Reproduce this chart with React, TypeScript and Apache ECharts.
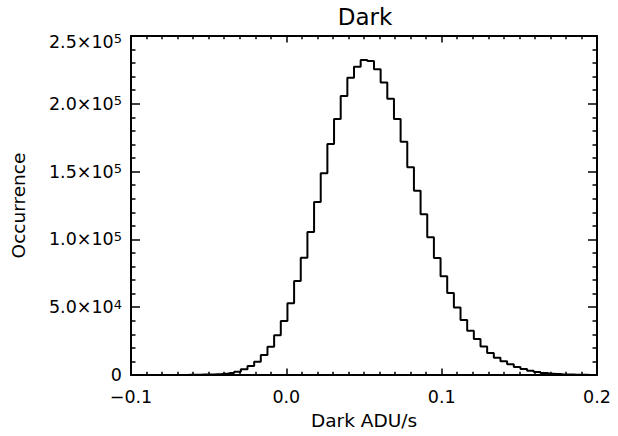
import React, { useEffect, useRef } from "react";
import * as echarts from "echarts";

// Histogram of dark current (bin centres from -0.1 to 0.2, 70 bins wide)
const binWidth = 0.3 / 70;
const firstBinCenter = -0.1;
const counts = [
  0, 0, 0, 0, 10, 20, 30, 50, 80, 120,
  180, 280, 420, 620, 1000, 1500, 2400, 4200, 6600, 9800,
  14700, 20900, 29300, 39800, 52900, 69300, 86500, 105500, 127600, 148700,
  170400, 188800, 205800, 219300, 227400, 232300, 231600, 225400, 215800, 203800,
  188800, 172100, 153200, 135900, 118500, 101500, 86300, 72800, 60500, 49700,
  40600, 32700, 26600, 21100, 16200, 12800, 10100, 7900, 5900, 4400,
  3200, 2200, 1500, 1000, 700, 450, 300, 180, 100, 60,
  30,
];

const xTickLabels = ["\u22120.1", "0.0", "0.1", "0.2"];
const yTickMantissas = ["0", "5.0\u00d710", "1.0\u00d710", "1.5\u00d710", "2.0\u00d710", "2.5\u00d710"];
const yTickExponents = ["", "4", "5", "5", "5", "5"];

const titleText = "Dark";
const xName = "Dark ADU/s";
const yName = "Occurrence";

export default function App() {
  const ref = useRef<HTMLDivElement>(null);
  useEffect(() => {
    const chart = echarts.init(ref.current!, null, { renderer: "svg" });
    const font = "DejaVu Sans";
    const fs = 17.5;
    const nameFs = 18.5;
    const data = counts.map((c, i) => [firstBinCenter + i * binWidth, c]);

    const line = { color: "#000", width: 2 };
    const tickStyle = { color: "#000", width: 1.5 };

    const xBase = (pos: "bottom" | "top", labels: boolean) => ({
      type: "value",
      position: pos,
      min: -0.1,
      max: 0.2,
      interval: 0.1,
      axisLine: { show: true, onZero: false, lineStyle: line },
      axisTick: { show: true, inside: true, length: 6.5, lineStyle: tickStyle },
      minorTick: { show: true, splitNumber: 10, length: 3.3, lineStyle: tickStyle },
      splitLine: { show: false },
      axisLabel: {
        show: labels,
        margin: 13,
        color: "#000",
        fontSize: fs,
        fontFamily: font,
        formatter: (v: number) => xTickLabels[Math.round((v + 0.1) / 0.1)] ?? "",
      },
    });

    const yBase = (pos: "left" | "right", labels: boolean) => ({
      type: "value",
      position: pos,
      min: 0,
      max: 250000,
      interval: 50000,
      axisLine: { show: true, onZero: false, lineStyle: line },
      axisTick: { show: true, inside: true, length: 9, lineStyle: tickStyle },
      minorTick: { show: true, splitNumber: 5, length: 4.5, lineStyle: tickStyle },
      splitLine: { show: false },
      axisLabel: {
        show: labels,
        margin: 9,
        color: "#000",
        fontFamily: font,
        fontSize: fs,
        formatter: (v: number) => {
          const i = Math.round(v / 50000);
          const m = yTickMantissas[i] ?? "";
          const e = yTickExponents[i] ?? "";
          const body = e ? `{m|${m}}{s|${e}}` : `{m|${m}}`;
          return i === yTickMantissas.length - 1 ? `{gap| }\n${body}` : body;
        },
        rich: {
          m: { fontSize: fs, fontFamily: font, color: "#000" },
          s: { fontSize: 13, fontFamily: font, color: "#000", verticalAlign: "top", lineHeight: 19 },
          gap: { fontSize: 2, height: 11, lineHeight: 11 },
        },
      },
    });

    chart.setOption({
      animation: false,
      backgroundColor: "#fff",
      title: {
        text: titleText,
        left: 365,
        top: 5,
        padding: 0,
        textAlign: "center",
        textStyle: { fontFamily: font, fontSize: 23, fontWeight: "normal", color: "#000" },
      },
      grid: { left: 131, top: 36, width: 466, height: 339, containLabel: false },
      xAxis: [
        {
          ...xBase("bottom", true),
          name: xName,
          nameLocation: "middle",
          nameGap: 30,
          nameTextStyle: { fontFamily: font, fontSize: nameFs, color: "#000" },
        },
        xBase("top", false),
      ],
      yAxis: [
        {
          ...yBase("left", true),
          name: yName,
          nameLocation: "middle",
          nameGap: 103,
          nameTextStyle: { fontFamily: font, fontSize: nameFs, color: "#000" },
        },
        yBase("right", false),
      ],
      series: [
        {
          type: "line",
          step: "middle",
          data,
          xAxisIndex: 0,
          yAxisIndex: 0,
          symbol: "none",
          lineStyle: { color: "#000", width: 2 },
        },
      ],
    });
    return () => chart.dispose();
  }, []);
  return (
    <div
      ref={ref}
      style={{ position: "absolute", left: 0, top: 0, width: 618, height: 436, background: "#fff" }}
    />
  );
}
